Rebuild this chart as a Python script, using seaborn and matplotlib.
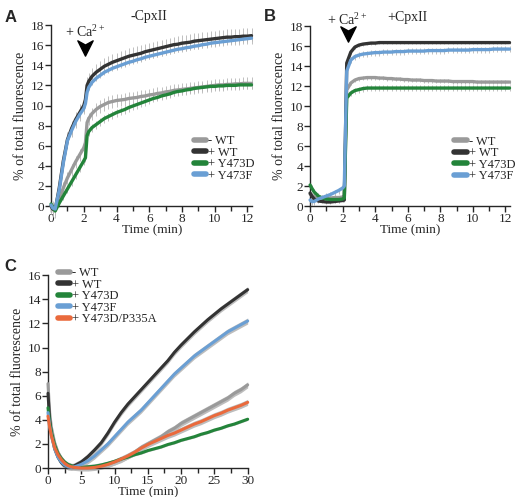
import numpy as np
import pandas as pd
import matplotlib
matplotlib.use("Agg")
import matplotlib.pyplot as plt
from matplotlib.path import Path
from matplotlib.lines import Line2D
from matplotlib.ticker import MultipleLocator
import seaborn as sns

# Panel A: -CpxII
t_a = [0, 0.1, 0.25, 0.5, 0.75, 1.0, 1.25, 1.5, 1.75, 2.0, 2.1, 2.2, 2.3, 2.5, 2.75,
       3.0, 3.25, 3.5, 3.75, 4.0, 4.25, 4.5, 4.75, 5.0, 5.25, 5.5, 5.75, 6.0, 6.25, 6.5,
       6.75, 7.0, 7.25, 7.5, 7.75, 8.0, 8.25, 8.5, 8.75, 9.0, 9.25, 9.5, 9.75, 10.0,
       10.25, 10.5, 10.75, 11.0, 11.25, 11.5, 11.75, 12.0, 12.25]
a_minus_wt = [0.0, -0.3, -0.3, 0.7, 1.8, 2.8, 3.6, 4.4, 5.1, 5.8, 6.3, 8.3, 8.7, 9.2, 9.6,
              9.9, 10.1, 10.3, 10.4, 10.5, 10.55, 10.6, 10.7, 10.75, 10.8, 10.9, 10.95, 11.05,
              11.1, 11.2, 11.25, 11.35, 11.4, 11.5, 11.55, 11.6, 11.65, 11.7, 11.75, 11.8,
              11.85, 11.9, 11.95, 12.0, 12.05, 12.05, 12.1, 12.1, 12.15, 12.15, 12.2, 12.2, 12.2]
a_wt = [0.0, -0.3, -0.4, 1.8, 4.5, 6.6, 7.7, 8.6, 9.3, 10.0, 10.6, 12.0, 12.4, 12.9, 13.3,
        13.6, 13.9, 14.1, 14.3, 14.45, 14.6, 14.75, 14.9, 15.0, 15.1, 15.2, 15.35, 15.45,
        15.55, 15.65, 15.75, 15.85, 15.95, 16.05, 16.1, 16.2, 16.25, 16.3, 16.4, 16.45,
        16.5, 16.55, 16.6, 16.65, 16.7, 16.75, 16.8, 16.8, 16.85, 16.85, 16.9, 16.9, 16.95]
a_y473d = [0.2, -0.1, -0.5, 0.3, 1.0, 1.7, 2.4, 3.1, 3.8, 4.5, 4.8, 7.0, 7.4, 7.8, 8.1,
           8.4, 8.7, 8.9, 9.1, 9.3, 9.45, 9.6, 9.8, 9.95, 10.1, 10.25, 10.4, 10.55, 10.7,
           10.8, 10.95, 11.05, 11.15, 11.3, 11.4, 11.45, 11.55, 11.6, 11.7, 11.75, 11.8,
           11.85, 11.9, 11.9, 11.95, 11.95, 12.0, 12.0, 12.0, 12.05, 12.05, 12.05, 12.05]
a_y473f = [0.1, -0.2, -0.3, 1.6, 4.3, 6.5, 7.5, 8.4, 9.1, 9.7, 10.2, 11.3, 11.8, 12.3, 12.7,
           13.0, 13.3, 13.5, 13.7, 13.85, 14.0, 14.15, 14.3, 14.4, 14.55, 14.65, 14.8, 14.9,
           15.0, 15.1, 15.2, 15.3, 15.4, 15.5, 15.6, 15.65, 15.75, 15.8, 15.9, 15.95, 16.05,
           16.1, 16.2, 16.25, 16.3, 16.35, 16.4, 16.45, 16.5, 16.55, 16.6, 16.65, 16.7]
a_err = [0.6, 0.8, 0.4, 0.3]

# Panel B: +CpxII
t_b = [0, 0.1, 0.25, 0.5, 0.75, 1.0, 1.25, 1.5, 1.75, 2.0, 2.1, 2.25, 2.5, 2.75,
       3.0, 3.25, 3.5, 3.75, 4.0, 4.25, 4.5, 4.75, 5.0, 5.25, 5.5, 5.75, 6.0, 6.25, 6.5,
       6.75, 7.0, 7.25, 7.5, 7.75, 8.0, 8.25, 8.5, 8.75, 9.0, 9.25, 9.5, 9.75, 10.0,
       10.25, 10.5, 10.75, 11.0, 11.25, 11.5, 11.75, 12.0, 12.25]
b_minus_wt = [1.2, 1.1, 0.9, 0.8, 0.8, 0.8, 0.8, 0.85, 0.85, 0.9, 0.9, 11.6, 12.3, 12.6,
              12.75, 12.8, 12.85, 12.85, 12.85, 12.8, 12.8, 12.75, 12.75, 12.7, 12.7, 12.65,
              12.65, 12.6, 12.6, 12.6, 12.55, 12.55, 12.55, 12.5, 12.5, 12.5, 12.5, 12.45,
              12.45, 12.45, 12.45, 12.45, 12.45, 12.4, 12.4, 12.4, 12.4, 12.4, 12.4, 12.4,
              12.4, 12.4]
b_wt = [1.3, 1.0, 0.7, 0.5, 0.45, 0.4, 0.4, 0.45, 0.5, 0.55, 0.6, 14.3, 15.4, 15.9,
        16.1, 16.2, 16.25, 16.3, 16.3, 16.35, 16.35, 16.35, 16.35, 16.35, 16.35, 16.35,
        16.35, 16.35, 16.35, 16.35, 16.35, 16.35, 16.35, 16.35, 16.35, 16.35, 16.35, 16.35,
        16.35, 16.35, 16.35, 16.35, 16.35, 16.35, 16.35, 16.35, 16.35, 16.35, 16.35, 16.35,
        16.35, 16.35]
b_y473d = [2.1, 1.8, 1.4, 1.0, 0.8, 0.7, 0.65, 0.65, 0.65, 0.7, 0.8, 10.8, 11.3, 11.55,
           11.65, 11.75, 11.8, 11.8, 11.8, 11.8, 11.8, 11.8, 11.8, 11.8, 11.8, 11.8, 11.8,
           11.8, 11.8, 11.8, 11.8, 11.8, 11.8, 11.8, 11.8, 11.8, 11.8, 11.8, 11.8, 11.8,
           11.8, 11.8, 11.8, 11.8, 11.8, 11.8, 11.8, 11.8, 11.8, 11.8, 11.8, 11.8]
b_y473f = [0.6, 0.45, 0.45, 0.7, 0.85, 1.0, 1.15, 1.35, 1.55, 1.8, 2.0, 13.5, 14.6, 14.95,
           15.1, 15.2, 15.25, 15.3, 15.35, 15.35, 15.4, 15.4, 15.4, 15.45, 15.45, 15.45,
           15.5, 15.5, 15.5, 15.5, 15.5, 15.55, 15.55, 15.55, 15.55, 15.55, 15.6, 15.6,
           15.6, 15.6, 15.6, 15.6, 15.65, 15.65, 15.65, 15.65, 15.65, 15.7, 15.7, 15.7,
           15.7, 15.7]
b_err = [0.2, 0.15, 0.3, 0.3]

# Panel C: slow release
t_c = [0, 0.25, 0.5, 1, 1.5, 2, 2.5, 3, 3.5, 4, 5, 6, 7, 8, 9, 10, 11, 12, 13, 14, 15,
       16, 17, 18, 19, 20, 21, 22, 23, 24, 25, 26, 27, 28, 29, 30]
c_minus_wt = [7.0, 4.6, 3.4, 2.1, 1.3, 0.8, 0.45, 0.25, 0.15, 0.1, 0.05, 0.05, 0.1, 0.2,
              0.3, 0.5, 0.7, 1.0, 1.3, 1.7, 2.0, 2.3, 2.6, 3.0, 3.3, 3.7, 4.0, 4.3, 4.6,
              4.9, 5.2, 5.5, 5.8, 6.2, 6.5, 6.9]
c_wt = [6.2, 4.0, 2.9, 1.6, 0.9, 0.45, 0.2, 0.1, 0.1, 0.2, 0.5, 0.95, 1.5, 2.1, 2.9, 3.8,
        4.6, 5.3, 5.9, 6.5, 7.1, 7.7, 8.3, 8.9, 9.6, 10.2, 10.75, 11.3, 11.8, 12.3, 12.75,
        13.2, 13.6, 14.0, 14.4, 14.8]
c_y473d = [5.0, 3.8, 3.0, 1.9, 1.2, 0.8, 0.5, 0.3, 0.2, 0.1, 0.05, 0.1, 0.15, 0.25, 0.4,
           0.55, 0.75, 0.9, 1.1, 1.25, 1.45, 1.6, 1.75, 1.95, 2.1, 2.3, 2.45, 2.6, 2.8,
           2.95, 3.15, 3.3, 3.5, 3.65, 3.85, 4.05]
c_y473f = [4.6, 3.5, 2.7, 1.6, 0.9, 0.5, 0.25, 0.1, 0.05, 0.1, 0.3, 0.6, 1.0, 1.5, 2.0,
           2.6, 3.2, 3.8, 4.3, 4.8, 5.4, 6.0, 6.6, 7.2, 7.8, 8.3, 8.8, 9.3, 9.7, 10.1,
           10.5, 10.9, 11.3, 11.6, 11.9, 12.2]
c_p335a = [4.3, 3.4, 2.7, 1.7, 1.1, 0.7, 0.4, 0.2, 0.1, 0.05, 0.0, 0.0, 0.05, 0.15, 0.3,
           0.5, 0.75, 1.0, 1.3, 1.65, 1.95, 2.2, 2.45, 2.7, 2.9, 3.15, 3.4, 3.65, 3.85,
           4.1, 4.35, 4.55, 4.8, 5.0, 5.2, 5.45]
c_band = [0.25, 0.25, 0.1, 0.25, 0.25]

labels = ["- WT", "+ WT", "+ Y473D", "+ Y473F", "+ Y473D/P335A"]
colors = ["#9a9a9a", "#333333", "#23843a", "#6a9fd4", "#ea6a3c"]

sns.set_style("ticks")
plt.rcParams['font.family'] = 'serif'
plt.rcParams['font.serif'] = ['Liberation Serif', 'DejaVu Serif']
plt.rcParams['mathtext.fontset'] = 'custom'
plt.rcParams['mathtext.rm'] = 'Liberation Serif'
plt.rcParams['mathtext.it'] = 'Liberation Serif:italic'

fig = plt.figure(figsize=(5.16, 4.97), dpi=100)
ax_a = fig.add_axes([0.099, 0.5855, 0.39, 0.364])
ax_b = fig.add_axes([0.601, 0.5855, 0.388, 0.362])
ax_c = fig.add_axes([0.093, 0.0583, 0.387, 0.388])

arrow_path = Path([(-1, 1), (0, -1), (1, 1), (0, 0.45), (-1, 1)],
                  [Path.MOVETO, Path.LINETO, Path.LINETO, Path.LINETO, Path.CLOSEPOLY])


def long_df(t, series):
    frames = []
    for lab, vals in zip(labels, series):
        frames.append(pd.DataFrame({"time": t, "value": vals, "group": lab}))
    return pd.concat(frames, ignore_index=True)


def style_axis(ax, xmax, ymax, xmajor, xminor):
    ax.set_xlim(0, xmax)
    ax.set_ylim(0, ymax)
    ax.xaxis.set_major_locator(MultipleLocator(xmajor))
    ax.xaxis.set_minor_locator(MultipleLocator(xminor))
    ax.yaxis.set_major_locator(MultipleLocator(2))
    sns.despine(ax=ax)
    for s in ["left", "bottom"]:
        ax.spines[s].set_linewidth(1.0)
    ax.tick_params(which="major", length=4, width=1, labelsize=9.5, pad=1, direction="out")
    ax.tick_params(which="minor", length=3.5, width=1, direction="out")
    ax.set_xlabel("Time (min)", fontsize=9.5, labelpad=-0.5)
    ax.set_ylabel("% of total fluorescence", fontsize=10, labelpad=3)


def add_legend(ax, n, loc, anchor):
    handles = [Line2D([0], [0], color=colors[i], lw=4, solid_capstyle="round") for i in range(n)]
    ax.legend(handles, labels[:n], loc=loc, bbox_to_anchor=anchor, frameon=False,
              fontsize=9, handlelength=1.0, handletextpad=0.15, labelspacing=-0.05,
              borderaxespad=0, borderpad=0)


def kinetic_panel(ax, t, series, errs, title, arrow_x, arrow_y, ca_y):
    df = long_df(t, series)
    for lab, vals, e in zip(labels, series, errs):
        ax.errorbar(t, vals, yerr=e, fmt="none", ecolor="#b5b5b5", elinewidth=0.6,
                    capsize=0, zorder=1, clip_on=False)
    sns.lineplot(data=df, x="time", y="value", hue="group", palette=colors[:4],
                 hue_order=labels[:4], lw=2.4, ax=ax, legend=False, zorder=3)
    for ln in ax.lines:
        ln.set_clip_on(False)
    ax.plot([arrow_x], [arrow_y], marker=arrow_path, ms=11, color="black", mec="black",
            clip_on=False, zorder=5)
    ax.text(arrow_x, ca_y, "+ Ca$^{2+}$", ha="center", va="center", fontsize=10)
    ax.text(6.0, 18.9, title, ha="center", va="center", fontsize=10)


kinetic_panel(ax_a, t_a, [a_minus_wt, a_wt, a_y473d, a_y473f], a_err, "-CpxII", 2.1, 15.7, 17.3)
style_axis(ax_a, 12.3, 18, 2, 1)
add_legend(ax_a, 4, "upper left", (0.71, 0.39))

kinetic_panel(ax_b, t_b, [b_minus_wt, b_wt, b_y473d, b_y473f], b_err, "+CpxII", 2.3, 17.2, 18.6)
style_axis(ax_b, 12.3, 18, 2, 1)
add_legend(ax_b, 4, "upper left", (0.72, 0.39))

# Panel C
series_c = [c_minus_wt, c_wt, c_y473d, c_y473f, c_p335a]
for vals, b in zip(series_c, c_band):
    v = np.array(vals)
    ax_c.fill_between(t_c, v - b, v + b, color="#bdbdbd", lw=0, zorder=1, clip_on=False)
df_c = long_df(t_c, series_c)
sns.lineplot(data=df_c, x="time", y="value", hue="group", palette=colors,
             hue_order=labels, lw=2.2, ax=ax_c, legend=False, zorder=3)
for ln in ax_c.lines:
    ln.set_clip_on(False)
style_axis(ax_c, 30, 16, 5, 2.5)
add_legend(ax_c, 5, "upper left", (0.05, 1.04))

fig.text(0.008, 0.955, "A", fontsize=12, fontweight="bold", family="Liberation Sans")
fig.text(0.512, 0.957, "B", fontsize=12, fontweight="bold", family="Liberation Sans")
fig.text(0.008, 0.455, "C", fontsize=12, fontweight="bold", family="Liberation Sans")

fig.savefig("out.png", dpi=100)
